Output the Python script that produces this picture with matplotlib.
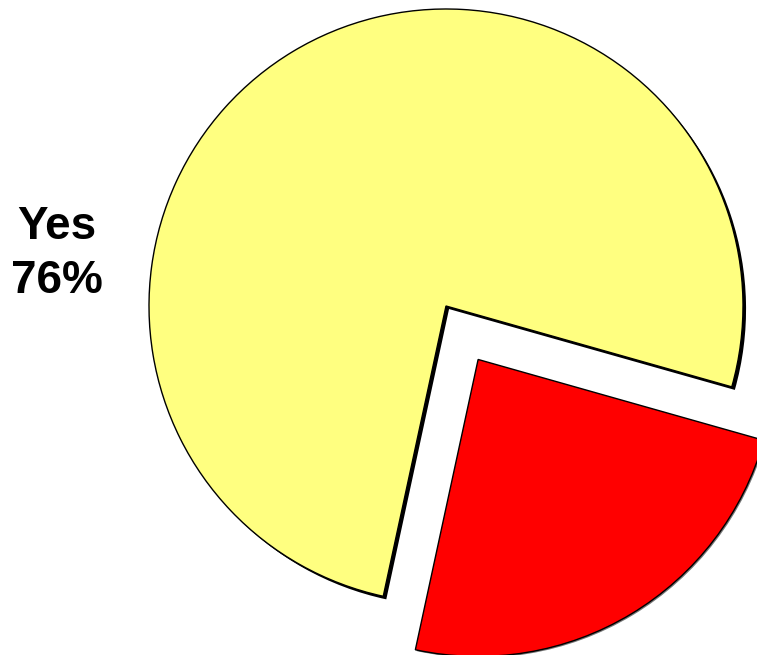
import matplotlib
matplotlib.use("Agg")
import matplotlib.pyplot as plt
import matplotlib.patheffects as pe

labels = ["Yes", "No"]
values = [76, 24]
colors = ["#FFFF80", "#FF0000"]
explode = [0.0, 0.21]

fig = plt.figure(figsize=(7.57, 6.55), dpi=100)
ax = fig.add_axes([0, 0, 1, 1])
wedges, _ = ax.pie(values, colors=colors, explode=explode, startangle=-15.8,
                   counterclock=True, radius=1.0,
                   wedgeprops=dict(edgecolor="black", linewidth=1.0))
wedges[0].set_path_effects([
    pe.SimplePatchShadow(offset=(2.2, -2.2), shadow_rgbFace="black", alpha=1.0),
    pe.Normal()])
wedges[1].set_path_effects([
    pe.SimplePatchShadow(offset=(1.0, -1.0), shadow_rgbFace="#555555", alpha=0.8),
    pe.Normal()])

ax.text(-1.31, 0.175, f"{labels[0]}\n{values[0]}%", ha="center", va="center",
        fontsize=33, fontweight="bold", family=["Liberation Sans", "DejaVu Sans"],
        linespacing=1.3)

ax.set_aspect("equal")
ax.set_xlim(-446 / 297, (757 - 446) / 297)
ax.set_ylim(-349 / 297, 306 / 297)
ax.axis("off")
fig.savefig("out.png", dpi=100)
